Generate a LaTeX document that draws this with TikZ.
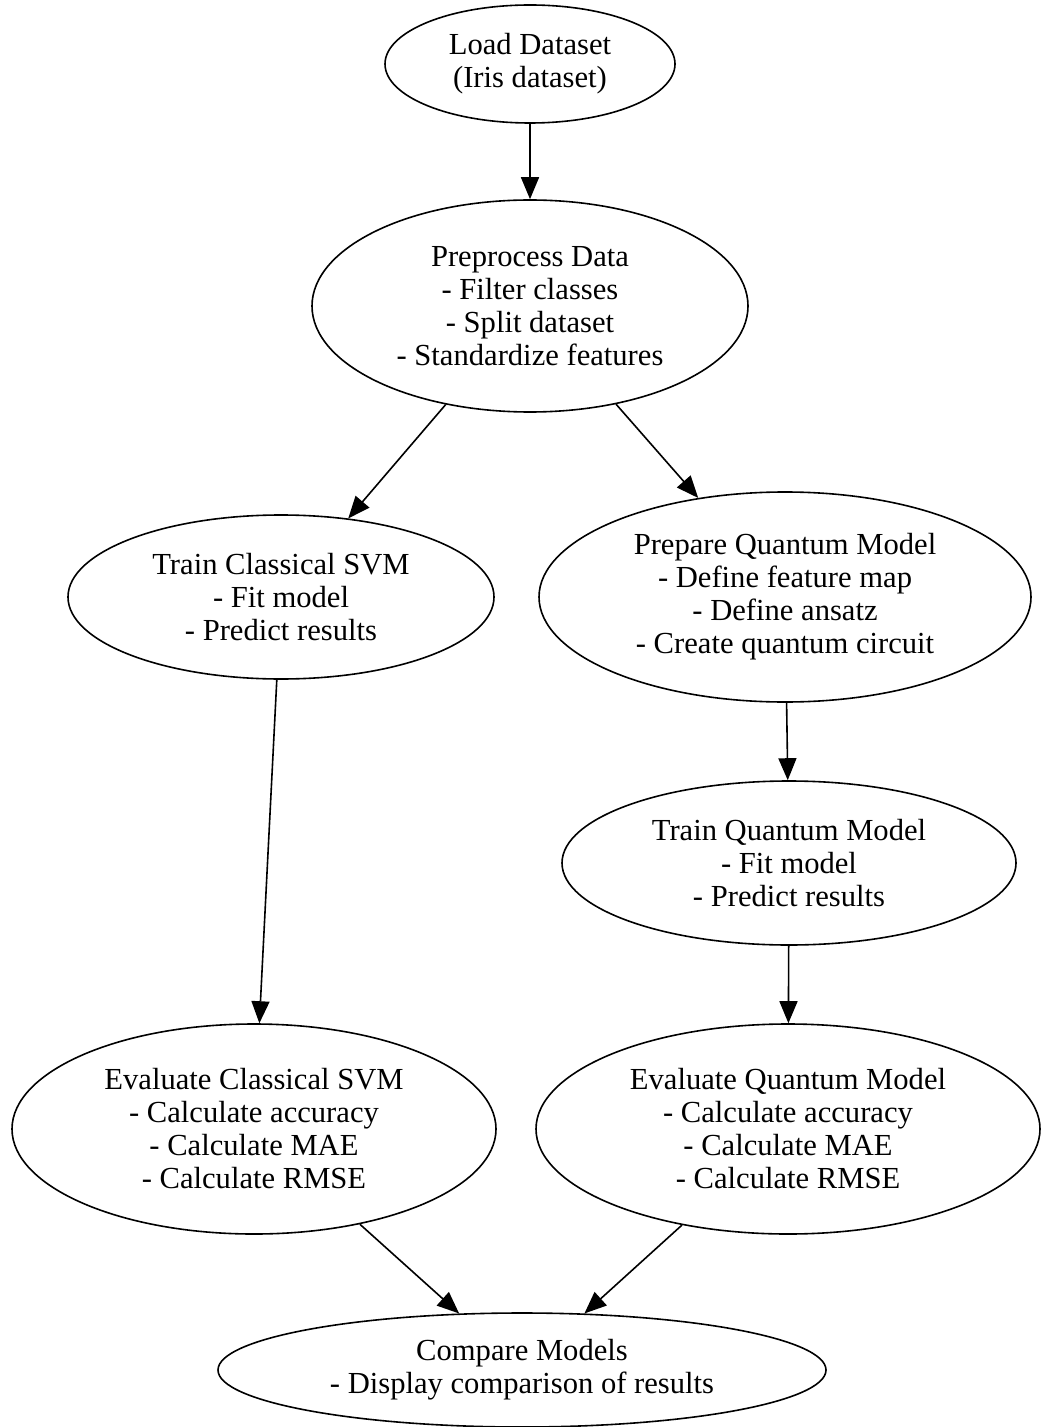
\documentclass[tikz,border=0pt]{standalone}
\usepackage{fontspec}
\setmainfont{Liberation Serif}
\usetikzlibrary{shapes,arrows.meta,positioning}

\begin{document}
\begin{tikzpicture}[x=0.5pt,y=-0.5pt,
    stage/.style={draw, ellipse, line width=0.8pt, inner sep=0pt, align=center,
        font=\fontsize{15.3}{16.5}\selectfont},
    flow/.style={-{Triangle[length=11pt,width=9pt]}, line width=0.8pt}]
    \useasboundingbox (0,0) rectangle (1041,1427);

    % top of the pipeline
    \node[stage, minimum width=290pt*0.5, minimum height=118pt*0.5] (load) at (530,64)
        {Load Dataset\\(Iris dataset)};
    \node[stage, minimum width=436pt*0.5, minimum height=212pt*0.5] (prep) at (530,306)
        {Preprocess Data\\- Filter classes\\- Split dataset\\- Standardize features};

    % classical branch
    \node[stage, minimum width=426pt*0.5, minimum height=164pt*0.5] (trainsvm) at (281,597)
        {Train Classical SVM\\- Fit model\\- Predict results};
    \node[stage, minimum width=484pt*0.5, minimum height=210pt*0.5] (evalsvm) at (254,1129)
        {Evaluate Classical SVM\\- Calculate accuracy\\- Calculate MAE\\- Calculate RMSE};

    % quantum branch
    \node[stage, minimum width=492pt*0.5, minimum height=210pt*0.5] (prepq) at (785,597)
        {Prepare Quantum Model\\- Define feature map\\- Define ansatz\\- Create quantum circuit};
    \node[stage, minimum width=454pt*0.5, minimum height=164pt*0.5] (trainq) at (789,863)
        {Train Quantum Model\\- Fit model\\- Predict results};
    \node[stage, minimum width=504pt*0.5, minimum height=210pt*0.5] (evalq) at (788,1129)
        {Evaluate Quantum Model\\- Calculate accuracy\\- Calculate MAE\\- Calculate RMSE};

    % result
    \node[stage, minimum width=608pt*0.5, minimum height=114pt*0.5] (cmp) at (522,1370)
        {Compare Models\\- Display comparison of results};

    \draw[flow] (load) -- (prep);
    \draw[flow] (prep) -- (trainsvm);
    \draw[flow] (prep) -- (prepq);
    \draw[flow] (trainsvm) -- (evalsvm);
    \draw[flow] (prepq) -- (trainq);
    \draw[flow] (trainq) -- (evalq);
    \draw[flow] (evalsvm) -- (cmp);
    \draw[flow] (evalq) -- (cmp);
\end{tikzpicture}
\end{document}
